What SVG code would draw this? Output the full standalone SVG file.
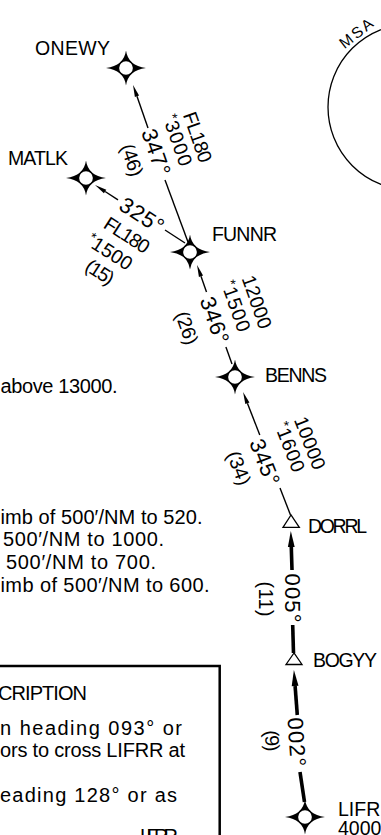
<svg xmlns="http://www.w3.org/2000/svg" xmlns:xlink="http://www.w3.org/1999/xlink" width="381" height="835" viewBox="0 0 381 835">
<style>
text{font-family:"Liberation Sans",Arial,"DejaVu Sans",sans-serif;fill:#000}
.lbl{font-size:19.5px}
.txt{font-size:20px}
.alt{font-size:19.5px;text-anchor:middle}
.crs{font-size:22px;text-anchor:middle}
.ast{font-size:14px}
.ln{stroke:#000;stroke-width:1.4;fill:none}
.thk{stroke:#000;stroke-width:3.6;fill:none}
.tri{fill:#fff;stroke:#000;stroke-width:1.3}
</style>
<defs>
<g id="wp">
<path d="M0,-17.5 Q2.2,-2.2 20,0 Q2.2,2.2 0,17.5 Q-2.2,2.2 -20,0 Q-2.2,-2.2 0,-17.5Z" fill="#000"/>
<circle r="7.5" fill="#fff" stroke="#000" stroke-width="1.3"/>
</g>
<marker id="ah" markerUnits="userSpaceOnUse" viewBox="0 0 12 6" markerWidth="12" markerHeight="6" refX="0" refY="3" orient="auto" overflow="visible"><path d="M0,0.8 L12,3 L0,5.2Z" fill="#000"/></marker>
<marker id="ahT" markerUnits="userSpaceOnUse" viewBox="0 0 16 8" markerWidth="16" markerHeight="8" refX="0" refY="4" orient="auto" overflow="visible"><path d="M0,0.6 L16,4 L0,7.4Z" fill="#000"/></marker>
</defs>
<rect width="381" height="835" fill="#fff"/>

<g id="msa">
<circle cx="411" cy="107" r="83" fill="none" stroke="#000" stroke-width="1.3"/>
<text style="font-size:15.5px;text-anchor:middle" transform="translate(356,33) rotate(-38.5)" y="5.5" textLength="38">MSA</text>
</g>

<g id="connectors">
<line class="ln" x1="148" y1="128" x2="136.97" y2="96.32" marker-end="url(#ah)"/>
<line class="ln" x1="165" y1="180" x2="188" y2="242"/>
<line class="ln" x1="118" y1="199.8" x2="105.1" y2="191.5" marker-end="url(#ah)"/>
<line class="ln" x1="165" y1="230" x2="185" y2="243"/>
<line class="ln" x1="206.5" y1="292" x2="201" y2="276.3" marker-end="url(#ah)"/>
<line class="ln" x1="225.9" y1="347" x2="232" y2="364"/>
<line class="ln" x1="259.8" y1="435" x2="247.4" y2="403.2" marker-end="url(#ah)"/>
<line class="ln" x1="280" y1="488" x2="290.5" y2="515"/>
<line class="thk" x1="292" y1="570" x2="291.3" y2="547" marker-end="url(#ahT)"/>
<line class="thk" x1="292.7" y1="625" x2="293.5" y2="653"/>
<line class="thk" x1="297.3" y1="715" x2="295.1" y2="686" marker-end="url(#ahT)"/>
<line class="thk" x1="300" y1="772" x2="304.5" y2="802"/>

<g id="leg-onewy" transform="translate(156,151) rotate(70.7)">
<text class="alt" x="0.7" y="-37.2" textLength="52">FL180</text>
<text class="alt" x="-3" y="-17.2" textLength="53"><tspan class="ast" dy="-5">*</tspan><tspan dy="5">3000</tspan></text>
<text class="crs" x="1" y="7.9" textLength="48">347°</text>
<text class="alt" x="0.6" y="32.4" textLength="33">(46)</text>
</g>
<g id="leg-matlk" transform="translate(142,215) rotate(32.8)">
<text class="crs" x="0" y="7.9" textLength="48">325°</text>
<text class="alt" x="-1.8" y="31.8" textLength="50">FL180</text>
<text class="alt" x="-7" y="55.2" textLength="50"><tspan class="ast" dy="-5">*</tspan><tspan dy="5">1500</tspan></text>
<text class="alt" x="-4.5" y="77.4" textLength="30">(15)</text>
</g>
<g id="leg-funnr" transform="translate(215,320) rotate(70.6)">
<text class="alt" x="-3" y="-38.8" textLength="55">12000</text>
<text class="alt" x="-6.2" y="-17.6" textLength="53"><tspan class="ast" dy="-5">*</tspan><tspan dy="5">1500</tspan></text>
<text class="crs" x="0" y="7.9" textLength="48">346°</text>
<text class="alt" x="-1.8" y="35.8" textLength="34">(26)</text>
</g>
<g id="leg-benns" transform="translate(265,462) rotate(68.7)">
<text class="alt" x="-1.4" y="-42" textLength="55">10000</text>
<text class="alt" x="-4.9" y="-21.9" textLength="52"><tspan class="ast" dy="-5">*</tspan><tspan dy="5">1600</tspan></text>
<text class="crs" x="0" y="7.9" textLength="48">345°</text>
<text class="alt" x="-3.8" y="33.2" textLength="35">(34)</text>
</g>
<g id="leg-dorrl" transform="translate(292.5,598) rotate(90)">
<text class="crs" x="0" y="7.9" textLength="49">005°</text>
<text class="alt" x="1" y="33.3" textLength="35">(11)</text>
</g>
<g id="leg-bogyy" transform="translate(297,742) rotate(86)">
<text class="crs" x="0" y="7.9" textLength="49">002°</text>
<text class="alt" x="-3" y="31.5" textLength="21">(9)</text>
</g>
</g>

<g id="ONEWY"><use xlink:href="#wp" x="126" y="68"/><text class="lbl" x="35" y="55" textLength="75">ONEWY</text></g>
<g id="MATLK"><use xlink:href="#wp" x="86" y="178"/><text class="lbl" x="8" y="165" textLength="60">MATLK</text></g>
<g id="FUNNR"><use xlink:href="#wp" x="190" y="252"/><text class="lbl" x="212" y="241" textLength="65">FUNNR</text></g>
<g id="BENNS"><use xlink:href="#wp" x="235" y="377"/><text class="lbl" x="265" y="382" textLength="62">BENNS</text></g>
<g id="DORRL"><polygon class="tri" points="291,515 283,527.3 299.3,527.3"/><text class="lbl" x="308" y="533" textLength="59">DORRL</text></g>
<g id="BOGYY"><polygon class="tri" points="294,653 286,664.5 302,664.5"/><text class="lbl" x="313" y="667" textLength="64">BOGYY</text></g>
<g id="LIFRR"><use xlink:href="#wp" x="305" y="817"/><text class="lbl" x="338" y="816">LIFRR</text><text class="lbl" x="338" y="835">4000</text></g>

<g id="notes">
<text class="txt" x="0.5" y="393" textLength="117">above 13000.</text>
<text class="txt" x="0.5" y="524" textLength="202">imb of 500′/NM to 520.</text>
<text class="txt" x="3" y="546" textLength="161">500′/NM to 1000.</text>
<text class="txt" x="6" y="569" textLength="150">500′/NM to 700.</text>
<text class="txt" x="0.5" y="592" textLength="209">imb of 500′/NM to 600.</text>
</g>

<g id="description">
<rect x="-10" y="666" width="229.7" height="200" fill="none" stroke="#000" stroke-width="2.5"/>
<text class="txt" x="-2" y="700" textLength="89">CRIPTION</text>
<text class="txt" x="0" y="735" textLength="182">n heading 093° or</text>
<text class="txt" x="0" y="757" textLength="185">ors to cross LIFRR at</text>
<text class="txt" x="0" y="802" textLength="177">eading 128° or as</text>
<text class="txt" x="140" y="843" textLength="38">LIFRR</text>
</g>
</svg>
